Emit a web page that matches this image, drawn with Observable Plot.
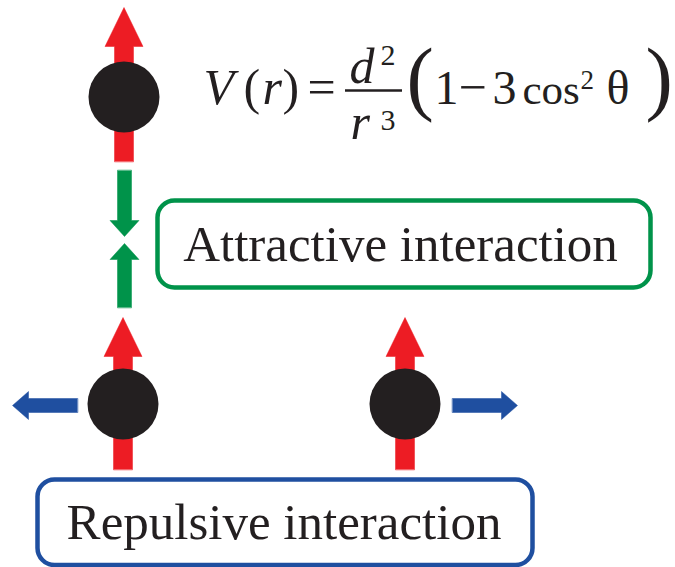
<!DOCTYPE html>
<html><head><meta charset="utf-8">
<script src="https://cdn.jsdelivr.net/npm/d3@7"></script>
<script src="https://cdn.jsdelivr.net/npm/@observablehq/plot@0.6"></script>
<style>html,body{margin:0;padding:0;background:#fff}</style>
</head><body><div id="chart"></div>
<script>
// Diagram coordinates (one unit = one pixel of the 675x567 figure, y downward)
const particles = [
  {id: "top",   x: 123.5, y: 96.5},
  {id: "left",  x: 122.5, y: 403.5},
  {id: "right", x: 404.5, y: 403.5}
];
// spin (dipole) arrows: tail -> tip
const spinArrows = [
  {x1: 123.5, y1: 161, x2: 123.5, y2: 7},
  {x1: 122.5, y1: 469, x2: 122.5, y2: 317},
  {x1: 404.5, y1: 469, x2: 404.5, y2: 317}
];
// attraction arrows (green)
const attractArrows = [
  {x1: 124, y1: 170, x2: 124, y2: 236},
  {x1: 124, y1: 307, x2: 124, y2: 243}
];
// repulsion arrows (blue)
const repelArrows = [
  {x1: 77, y1: 405, x2: 12, y2: 405},
  {x1: 452, y1: 405, x2: 517, y2: 405}
];
const boxes = [
  {label: "Attractive interaction", x1: 157.5, x2: 650.5, y1: 200.5, y2: 287.5, color: "#00934A", tx: 400, ty: 260},
  {label: "Repulsive interaction",  x1: 37.5,  x2: 532.5, y1: 479.5, y2: 565,   color: "#1F4FA0", tx: 283.5, ty: 538}
];
// formula V(r) = d^2/r^3 (1 - 3cos^2 θ), pieces: text, x (start), baseline y, size
const formulaItalic = [
  {t: "V", x: 203, y: 103, s: 50},
  {t: "r", x: 262, y: 103, s: 50},
  {t: "d", x: 349, y: 82, s: 50},
  {t: "r", x: 350, y: 138, s: 50}
];
const formulaUpright = [
  {t: "(", x: 243, y: 103, s: 50},
  {t: ")", x: 282, y: 103, s: 50},
  {t: "=", x: 307, y: 103, s: 50},
  {t: "2", x: 380, y: 64, s: 30},
  {t: "3", x: 380, y: 129, s: 30},
  {t: "1", x: 434, y: 103, s: 48},
  {t: "\u2212", x: 458, y: 103, s: 50},
  {t: "3", x: 492, y: 103, s: 48},
  {t: "cos", x: 522, y: 103, s: 43},
  {t: "2", x: 580, y: 88, s: 27},
  {t: "\u03B8", x: 606, y: 103, s: 48},
  {t: "(", x: 406, y: 104, s: 82},
  {t: ")", x: 645, y: 104, s: 82}
];
const fractionBar = [{x1: 345, x2: 402, y: 90}];

const RED = "#ED1C24", GREEN = "#00934A", BLUE = "#1F4FA0", INK = "#231F20";

function arrowPolygon(a, i, color, shaft, headWidth, head) {
  const dx = a.x2 - a.x1, dy = a.y2 - a.y1, L = Math.hypot(dx, dy);
  const ux = dx / L, uy = dy / L, nx = -uy, ny = ux;
  const bx = a.x2 - ux * head, by = a.y2 - uy * head;
  const s = shaft / 2, h = headWidth / 2;
  const pts = [
    [a.x1 + nx * s, a.y1 + ny * s],
    [bx + nx * s, by + ny * s],
    [bx + nx * h, by + ny * h],
    [a.x2, a.y2],
    [bx - nx * h, by - ny * h],
    [bx - nx * s, by - ny * s],
    [a.x1 - nx * s, a.y1 - ny * s]
  ];
  return pts.map(([x, y]) => ({id: color + i, x, y, color}));
}
const polys = [
  ...spinArrows.flatMap((a, i) => arrowPolygon(a, i, RED, 19, 38, 39)),
  ...attractArrows.flatMap((a, i) => arrowPolygon(a, i, GREEN, 14, 29, 16)),
  ...repelArrows.flatMap((a, i) => arrowPolygon(a, i, BLUE, 14, 28, 16))
];

const serif = "'Liberation Serif', 'Times New Roman', serif";

const chart = Plot.plot({
  width: 675,
  height: 567,
  margin: 0,
  x: {domain: [0, 675], range: [0, 675], axis: null},
  y: {domain: [0, 567], range: [0, 567], axis: null},
  color: {type: "identity"},
  style: {background: "#fff"},
  marks: [
    Plot.line(polys, {x: "x", y: "y", z: "id", fill: "color", stroke: "color", strokeWidth: 0.5, curve: "linear-closed"}),
    Plot.dot(particles, {x: "x", y: "y", r: 35.5, fill: INK, stroke: null}),
    Plot.rect(boxes, {x1: "x1", x2: "x2", y1: "y1", y2: "y2", rx: 17, fill: "#fff", stroke: "color", strokeWidth: 4.5}),
    Plot.text(boxes, {x: "tx", y: "ty", text: "label", fontSize: 51, fontFamily: serif, fill: INK, lineAnchor: "bottom", textAnchor: "middle"}),
    Plot.text(formulaItalic, {x: "x", y: "y", text: "t", fontSize: "s", fontFamily: serif, fontStyle: "italic", fill: INK, lineAnchor: "bottom", textAnchor: "start"}),
    Plot.text(formulaUpright, {x: "x", y: "y", text: "t", fontSize: "s", fontFamily: serif, fill: INK, lineAnchor: "bottom", textAnchor: "start"}),
    Plot.ruleY(fractionBar, {y: "y", x1: "x1", x2: "x2", stroke: INK, strokeWidth: 2.5})
  ]
});
document.getElementById("chart").appendChild(chart);
</script>
</body></html>
